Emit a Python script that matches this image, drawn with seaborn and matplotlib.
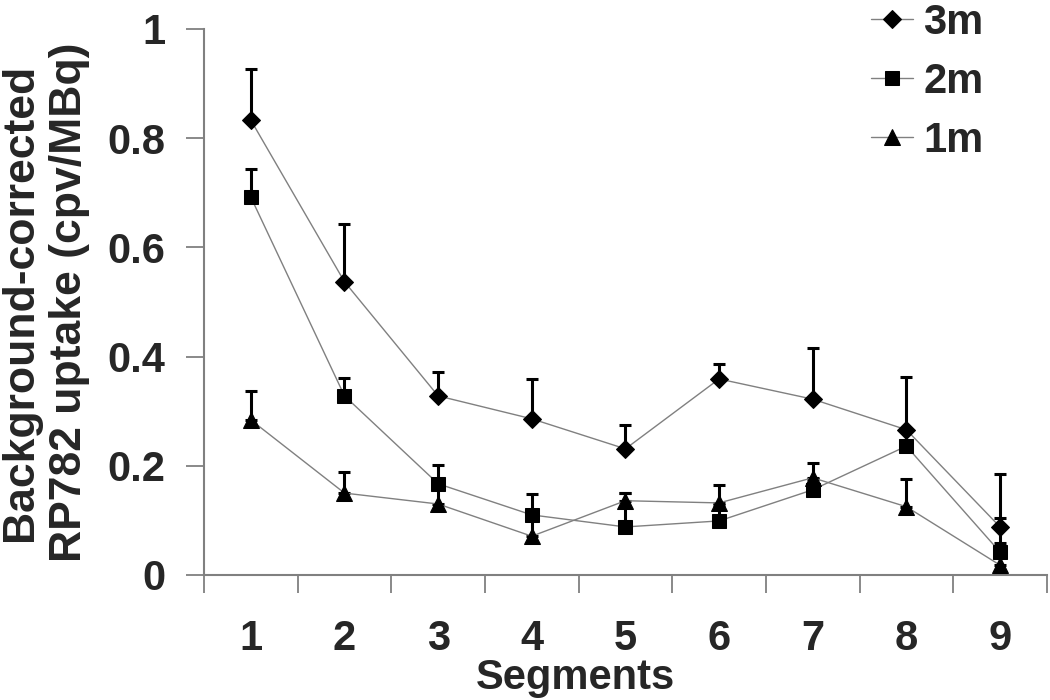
import numpy as np
import matplotlib
matplotlib.use('Agg')
import matplotlib.pyplot as plt
import seaborn as sns

# 数据
segments = [1, 2, 3, 4, 5, 6, 7, 8, 9]
uptake_3m = [0.833, 0.537, 0.328, 0.286, 0.231, 0.359, 0.322, 0.266, 0.088]
err_3m = [0.094, 0.106, 0.044, 0.073, 0.044, 0.027, 0.094, 0.097, 0.097]
uptake_2m = [0.692, 0.328, 0.167, 0.110, 0.088, 0.099, 0.156, 0.236, 0.042]
err_2m = [0.052, 0.033, 0.034, 0.038, 0.062, 0.030, 0.020, 0.000, 0.062]
uptake_1m = [0.284, 0.150, 0.130, 0.071, 0.136, 0.132, 0.178, 0.125, 0.018]
err_1m = [0.053, 0.038, 0.040, 0.040, 0.014, 0.033, 0.027, 0.051, 0.040]

sns.set_style('ticks')
plt.rcParams['font.family'] = ['Liberation Sans', 'DejaVu Sans']
plt.rcParams['font.weight'] = 'bold'

fig = plt.figure(figsize=(10.5, 7), dpi=100)
ax = fig.add_axes([0.1943, 0.1786, 0.997 - 0.1943, 0.9586 - 0.1786])

series = [
    ('3m', uptake_3m, err_3m, 'D', 9),
    ('2m', uptake_2m, err_2m, 's', 10),
    ('1m', uptake_1m, err_1m, '^', 11),
]

for label, vals, errs, mk, ms in series:
    # 只画向上的误差线
    ax.errorbar(segments, vals, yerr=[np.zeros(len(errs)), errs], fmt='none',
                ecolor='black', elinewidth=2.2, capsize=4, capthick=2.2, zorder=2)
    sns.lineplot(x=segments, y=vals, ax=ax, color='#808080', lw=1,
                 marker=mk, markersize=ms, markerfacecolor='black',
                 markeredgecolor='black', label=label, zorder=3)

ax.set_xlim(0.5, 9.5)
ax.set_ylim(0, 1)
ax.set_yticks([0, 0.2, 0.4, 0.6, 0.8, 1.0])
ax.set_yticklabels(['0', '0.2', '0.4', '0.6', '0.8', '1'])
ax.set_xticks(np.arange(0.5, 10, 1))
ax.set_xticklabels([])
ax.set_xticks(segments, minor=True)
ax.set_xticklabels([str(s) for s in segments], minor=True)

ax.tick_params(axis='y', which='major', length=13, width=1.3, color='#808080',
               pad=15, labelsize=30)
ax.tick_params(axis='x', which='major', length=13, width=1.3, color='#808080')
ax.tick_params(axis='x', which='minor', length=0, pad=32, labelsize=30)

for side in ['top', 'right']:
    ax.spines[side].set_visible(False)
for side in ['left', 'bottom']:
    ax.spines[side].set_color('#808080')
    ax.spines[side].set_linewidth(1.5)

ax.set_xlabel('Segments', fontsize=30, fontweight='bold')
ax.xaxis.set_label_coords((576 - 204) / 843, -0.152)
ax.xaxis.label.set_va('top')
ax.set_ylabel('Background-corrected\nRP782 uptake (cpv/MBq)', fontsize=32,
              fontweight='bold', linespacing=1.25)
ax.yaxis.set_label_coords(-0.135, 0.5)

ax.legend(loc='upper left', bbox_to_anchor=(846 / 1050, 1 + 22 / 700),
          bbox_transform=fig.transFigure, frameon=False, fontsize=30,
          handlelength=1.0, handletextpad=0.25, labelspacing=0.45,
          borderpad=0.1)

fig.savefig('out.png', dpi=100)
